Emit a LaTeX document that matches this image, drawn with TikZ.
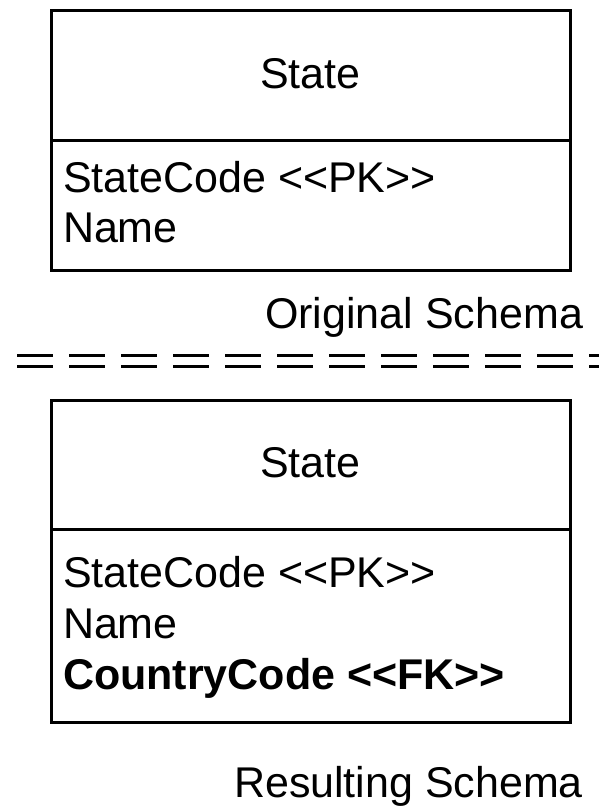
\documentclass[tikz,border=0pt]{standalone}
\usepackage{fontspec}
\setmainfont{Liberation Sans}
\begin{document}
\begin{tikzpicture}[x=1pt,y=-1pt,
  every node/.style={inner sep=0pt,outer sep=0pt},
  compartment/.style={draw=black,line width=3pt,minimum width=519pt,anchor=north west},
  label/.style={font=\fontsize{43}{51}\selectfont},
  attr/.style={label,anchor=base west},
  caption/.style={label,anchor=base east},
  sepline/.style={line width=3.5pt,dash pattern=on 36pt off 16pt}]
\useasboundingbox (0,0) rectangle (599,809);

% original schema: class box with name and attribute compartments
\node[compartment,minimum height=130pt] (head1) at (51,10) {};
\node[compartment,minimum height=130pt] (body1) at (51,140) {};
\node[label,anchor=base] (name1) at (310.5,88) {State};
\node[attr] (a11) at (63,192) {StateCode <\kern0pt<PK>\kern0pt>};
\node[attr] (a12) at (63,242) {Name};
\node[caption] (cap1) at (583,328) {Original Schema};

% double dashed separator
\coordinate (s1l) at (17,355.5);
\coordinate (s1r) at (610,355.5);
\coordinate (s2l) at (17,366.5);
\coordinate (s2r) at (610,366.5);
\draw[sepline] (s1l) -- (s1r);
\draw[sepline] (s2l) -- (s2r);

% resulting schema with the added foreign key
\node[compartment,minimum height=129pt] (head2) at (51,400) {};
\node[compartment,minimum height=193pt] (body2) at (51,529) {};
\node[label,anchor=base] (name2) at (310.5,477) {State};
\node[attr] (a21) at (63,587) {StateCode <\kern0pt<PK>\kern0pt>};
\node[attr] (a22) at (63,638) {Name};
\node[attr,font=\fontsize{43}{51}\selectfont\bfseries] (a23) at (63,689) {CountryCode <\kern0pt<FK>\kern0pt>};
\node[caption] (cap2) at (583,797) {Resulting Schema};
\end{tikzpicture}
\end{document}
